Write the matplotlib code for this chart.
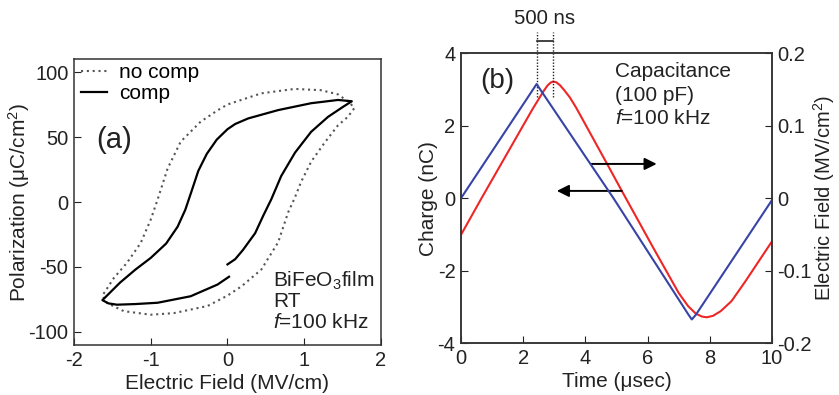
import matplotlib
matplotlib.use("Agg")
import matplotlib.pyplot as plt

plt.rcParams['font.family'] = ['Liberation Sans', 'DejaVu Sans']
plt.rcParams['mathtext.fontset'] = 'custom'
plt.rcParams['mathtext.rm'] = 'Liberation Sans'
plt.rcParams['mathtext.it'] = 'Liberation Sans:italic'
plt.rcParams['axes.unicode_minus'] = False

# (a) P-E hysteresis loops
comp_E = [0.0, 0.1, 0.2, 0.36, 0.47, 0.57, 0.70, 0.88, 1.09, 1.31, 1.50, 1.62,
          1.44, 1.09, 0.66, 0.27, 0.10, 0.0, -0.14, -0.27, -0.38, -0.47, -0.55,
          -0.65, -0.80, -1.0, -1.2, -1.4, -1.63,
          -1.55, -1.44, -1.2, -0.91, -0.48, -0.13, 0.02]
comp_P = [-48, -44, -37, -24, -10, 2, 20, 38, 54, 65.5, 73, 77.5,
          78.5, 76, 70.7, 64.3, 60, 56, 48, 37, 24, 8, -6,
          -19, -32, -43, -52, -62, -75.5,
          -78, -79, -78.5, -77.5, -72.5, -63.5, -57.5]

nocomp_E = [1.65, 1.57, 1.44, 1.27, 1.09, 0.96, 0.875, 0.79, 0.66, 0.44, 0.18,
            0.0, -0.26, -0.70, -1.0, -1.35, -1.57, -1.63,
            -1.48, -1.31, -1.13, -1.0, -0.91, -0.78, -0.61, -0.35, -0.13,
            0.0, 0.44, 0.875, 1.22, 1.44, 1.6, 1.65]
nocomp_P = [72, 65.6, 59, 46, 31, 15.6, 3, -8, -31, -52, -65,
            -72, -80, -85.5, -86.7, -84, -77.7, -72,
            -58.4, -46.8, -31.4, -13.5, 2, 25.8, 46.4, 61.8, 70.5,
            75, 83.6, 87, 86, 82.8, 76, 72]

# (b) charge (red, left axis) and electric field (blue, right axis) vs time
charge_t = [0, 0.66, 1.5, 2.3, 2.5, 2.65, 2.78, 2.88, 2.96, 3.06, 3.18, 3.32,
            3.5, 3.7, 4.04, 4.7, 5.17, 6.18, 7.0, 7.3, 7.55, 7.75, 7.9, 8.1,
            8.35, 8.7, 9.14, 10]
charge_q = [-1.01, 0, 1.26, 2.46, 2.74, 2.95, 3.11, 3.19, 3.22, 3.2, 3.12, 2.98,
            2.78, 2.5, 1.97, 0.94, 0.2, -1.37, -2.62, -2.98, -3.19, -3.27, -3.29, -3.25,
            -3.12, -2.84, -2.3, -1.19]

field_t = [0, 2.43, 4.9, 7.3, 7.42, 7.55, 10]
field_E = [0, 0.1575, 0, -0.16, -0.1675, -0.161, -0.0025]

peak_t = [2.43, 2.96]

ink = '#222222'
fs = 15
tfs = 14.5
fig = plt.figure(figsize=(8.39, 3.95), dpi=100)

# ---------------- panel (a)
ax = fig.add_axes([0.0882, 0.1266, 0.3659, 0.7240])
ax.plot(nocomp_E, nocomp_P, color='#555555', lw=1.5, linestyle=(0, (1, 1.8)),
        label='no comp')
ax.plot(comp_E, comp_P, color='black', lw=1.6, label='comp')
ax.set_xlim(-2, 2)
ax.set_ylim(-110, 110)
ax.set_xticks([-2, -1, 0, 1, 2])
ax.set_yticks([-100, -50, 0, 50, 100])
ax.tick_params(direction='in', length=5, labelsize=tfs, colors=ink, pad=4)
ax.set_xlabel('Electric Field (MV/cm)', fontsize=fs, color=ink)
ax.set_ylabel('Polarization (μC/cm$^2$)', fontsize=fs, color=ink)
ax.xaxis.set_label_coords(0.5, -0.101)
ax.yaxis.set_label_coords(-0.137, 0.5)
ax.legend(loc='upper left', frameon=False, fontsize=fs, handlelength=1.25,
          handletextpad=0.55, labelspacing=0.1, borderaxespad=0.0,
          borderpad=0.2, bbox_to_anchor=(0.01, 1.0))
ax.text(-1.71, 48, '(a)', fontsize=21, color=ink, va='center')
ax.text(0.59, -61, 'BiFeO$_3$film', fontsize=fs, color=ink, va='center')
ax.text(0.59, -76.5, 'RT', fontsize=fs, color=ink, va='center')
ax.text(0.59, -93, '$f$=100 kHz', fontsize=fs, color=ink, va='center')

# ---------------- panel (b)
bx = fig.add_axes([0.5495, 0.1316, 0.3707, 0.7335])
bx.plot(charge_t, charge_q, color='#ee2626', lw=1.5)
bx.set_xlim(0, 10)
bx.set_ylim(-4, 4)
bx.set_xticks([0, 2, 4, 6, 8, 10])
bx.set_yticks([-4, -2, 0, 2, 4])
bx.tick_params(direction='in', length=5, labelsize=tfs, colors=ink, pad=4)
bx.set_xlabel('Time (μsec)', fontsize=fs, color=ink)
bx.set_ylabel('Charge (nC)', fontsize=fs, color=ink)
bx.xaxis.set_label_coords(0.5, -0.099)
bx.yaxis.set_label_coords(-0.074, 0.5)

rx = bx.twinx()
rx.plot(field_t, field_E, color='#3744a6', lw=1.5)
rx.set_ylim(-0.2, 0.2)
rx.set_yticks([-0.2, -0.1, 0, 0.1, 0.2])
rx.set_yticklabels(['-0.2', '-0.1', '0', '0.1', '0.2'])
rx.tick_params(direction='in', length=5, labelsize=tfs, colors=ink, pad=4)
rx.set_ylabel('Electric Field (MV/cm$^2$)', fontsize=14.5, color=ink)
rx.yaxis.set_label_coords(1.126, 0.5)

for t in peak_t:
    bx.plot([t, t], [2.8, 4.6], color=ink, lw=1, linestyle=(0, (1, 1.2)),
            clip_on=False)
bx.plot(peak_t, [4.35, 4.35], color=ink, lw=1.2, clip_on=False)
bx.text(sum(peak_t) / 2, 4.95, '500 ns', fontsize=14.7, color=ink,
        ha='center', va='center')

bx.text(0.62, 3.24, '(b)', fontsize=20, color=ink, va='center')
bx.text(4.95, 3.51, 'Capacitance', fontsize=fs, color=ink, va='center')
bx.text(4.95, 2.83, '(100 pF)', fontsize=fs, color=ink, va='center')
bx.text(4.95, 2.2, '$f$=100 kHz', fontsize=fs, color=ink, va='center')

bx.annotate('', xy=(6.29, 0.945), xytext=(4.2, 0.945),
            arrowprops=dict(arrowstyle='-|>', color='black', lw=1.4,
                            mutation_scale=18, shrinkA=0, shrinkB=0))
bx.annotate('', xy=(3.08, 0.2), xytext=(5.17, 0.2),
            arrowprops=dict(arrowstyle='-|>', color='black', lw=1.4,
                            mutation_scale=18, shrinkA=0, shrinkB=0))

for a in (ax, bx, rx):
    for s in a.spines.values():
        s.set_color('#333333')
        s.set_linewidth(1.1)

fig.savefig('out.png', dpi=100)
